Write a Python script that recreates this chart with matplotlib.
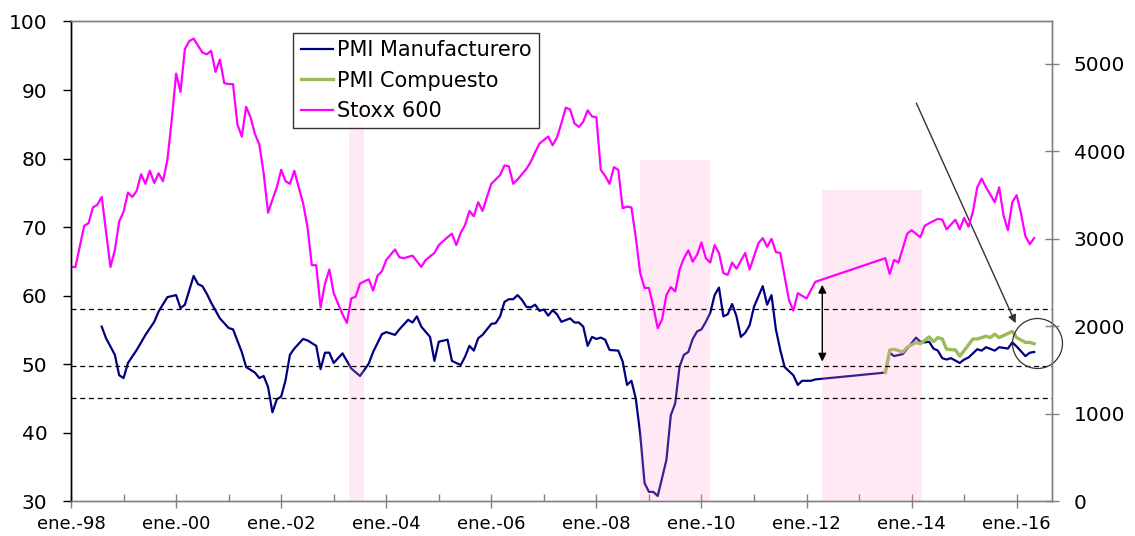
import numpy as np
import matplotlib
matplotlib.use("Agg")
import matplotlib.pyplot as plt
from matplotlib.ticker import FixedLocator

# months counted from Jan 1998
pmi_manuf_m = [7, 8, 10, 11, 12, 13, 15, 17, 19, 20, 22, 24, 25, 26, 28, 29, 30, 31, 32, 34,
               35, 36, 37, 39, 40, 42, 43, 44, 45, 46, 47, 48, 49, 50, 51, 53, 54, 56, 57, 58,
               59, 60, 62, 64, 66, 68, 69, 71, 72, 74, 75, 77, 78, 79, 80, 82, 83, 84, 86, 87,
               89, 90, 91, 92, 93, 94, 96, 97, 98, 99, 100, 101, 102, 103, 104, 105, 106, 107, 108, 109,
               110, 111, 112, 114, 115, 116, 117, 118, 119, 120, 121, 122, 123, 125, 126, 127, 128, 129, 130, 131,
               132, 133, 134, 135, 136, 137, 138, 139, 140, 141, 142, 143, 144, 145, 146, 147, 148, 149, 150, 151,
               152, 153, 154, 155, 156, 158, 159, 160, 161, 162, 163, 165, 166, 167, 169, 170, 186, 187, 188, 190,
               191, 193, 194, 195, 196, 197, 198, 199, 200, 201, 203, 204, 205, 207, 208, 209, 211, 212, 214, 215,
               216, 218, 219, 220]
pmi_manuf_v = [55.5, 53.8, 51.4, 48.4, 48.0, 50.2, 52.1, 54.3, 56.2, 57.7, 59.8, 60.1, 58.2, 58.7, 62.9, 61.7, 61.4, 60.3, 59.0, 56.7,
               56.0, 55.3, 55.1, 51.8, 49.6, 48.8, 48.0, 48.3, 46.7, 43.0, 44.9, 45.3, 47.7, 51.4, 52.3, 53.7, 53.5, 52.7, 49.3, 51.7,
               51.7, 50.2, 51.6, 49.4, 48.3, 50.1, 51.8, 54.4, 54.7, 54.3, 55.1, 56.5, 56.1, 57.0, 55.5, 54.0, 50.5, 53.3, 53.6, 50.5,
               49.9, 51.1, 52.7, 52.0, 53.8, 54.3, 55.9, 56.0, 57.0, 59.1, 59.5, 59.5, 60.1, 59.4, 58.4, 58.3, 58.7, 57.8, 58.0, 57.1,
               57.9, 57.3, 56.2, 56.7, 56.1, 56.1, 55.5, 52.7, 54.0, 53.7, 53.9, 53.6, 52.1, 52.0, 50.4, 47.0, 47.6, 45.0, 39.9, 32.7,
               31.4, 31.4, 30.8, 33.4, 36.1, 42.6, 44.3, 49.7, 51.4, 51.8, 53.7, 54.8, 55.1, 56.2, 57.5, 60.1, 61.2, 57.0, 57.3, 58.8,
               57.0, 54.0, 54.6, 55.7, 58.4, 61.4, 58.7, 60.1, 55.1, 52.1, 49.6, 48.4, 47.0, 47.6, 47.6, 47.8, 48.8, 51.7, 51.2, 51.5,
               52.3, 53.9, 53.3, 53.2, 53.3, 52.3, 52.0, 50.9, 50.7, 50.9, 50.2, 50.7, 51.0, 52.2, 52.0, 52.5, 52.0, 52.5, 52.3, 53.2,
               52.6, 51.2, 51.7, 51.8]

pmi_comp_m = [186, 187, 188, 190, 191, 193, 194, 196, 197, 198, 199, 200, 202, 203, 204, 206, 207, 209, 210, 211,
              212, 213, 215, 216, 218, 219, 220]
pmi_comp_v = [48.8, 52.1, 52.2, 51.8, 52.5, 53.2, 53.0, 54.0, 53.3, 53.9, 53.7, 52.2, 52.1, 51.2, 52.0, 53.7, 53.7, 54.1, 53.9, 54.4,
              53.9, 54.2, 54.8, 53.9, 53.2, 53.2, 53.0]

stoxx_m = [0, 1, 3, 4, 5, 6, 7, 9, 10, 11, 12, 13, 14, 15, 16, 17, 18, 19, 20, 21,
           22, 23, 24, 25, 26, 27, 28, 30, 31, 32, 33, 34, 35, 36, 37, 38, 39, 40, 41, 42,
           43, 44, 45, 46, 47, 48, 49, 50, 51, 52, 53, 54, 55, 56, 57, 58, 59, 60, 62, 63,
           64, 65, 66, 68, 69, 70, 71, 72, 74, 75, 76, 78, 80, 81, 83, 84, 86, 87, 88, 89,
           90, 91, 92, 93, 94, 95, 96, 98, 99, 100, 101, 102, 104, 105, 106, 107, 109, 110, 111, 112,
           113, 114, 115, 116, 117, 118, 119, 120, 121, 122, 123, 124, 125, 126, 127, 128, 129, 130, 131, 132,
           133, 134, 135, 136, 137, 138, 139, 140, 141, 142, 143, 144, 145, 146, 147, 148, 149, 150, 151, 152,
           154, 155, 157, 158, 159, 160, 161, 162, 164, 165, 166, 168, 170, 186, 187, 188, 189, 191, 192, 194,
           195, 196, 198, 199, 200, 202, 203, 204, 205, 206, 207, 208, 209, 211, 212, 213, 214, 215, 216, 217,
           218, 219, 220]
stoxx_v = [2680, 2680, 3150, 3180, 3360, 3390, 3480, 2680, 2870, 3200, 3310, 3530, 3480, 3550, 3740, 3630, 3780, 3640, 3750, 3660,
           3900, 4360, 4890, 4680, 5170, 5260, 5290, 5130, 5110, 5150, 4910, 5050, 4780, 4770, 4770, 4310, 4170, 4510, 4390, 4200,
           4080, 3750, 3300, 3450, 3590, 3790, 3660, 3630, 3780, 3590, 3410, 3140, 2700, 2700, 2220, 2490, 2650, 2380, 2140, 2040,
           2320, 2340, 2490, 2540, 2410, 2580, 2630, 2760, 2880, 2790, 2780, 2810, 2680, 2760, 2840, 2930, 3020, 3060, 2930, 3070,
           3160, 3320, 3260, 3420, 3320, 3480, 3630, 3730, 3840, 3830, 3630, 3680, 3800, 3880, 3990, 4090, 4170, 4070, 4160, 4320,
           4500, 4480, 4320, 4280, 4340, 4470, 4400, 4390, 3790, 3720, 3630, 3820, 3790, 3350, 3370, 3360, 3020, 2610, 2440, 2440,
           2230, 1980, 2080, 2360, 2450, 2400, 2650, 2780, 2870, 2740, 2820, 2960, 2780, 2730, 2930, 2840, 2610, 2590, 2730, 2660,
           2840, 2650, 2950, 3010, 2910, 3000, 2850, 2840, 2300, 2180, 2380, 2320, 2510, 2780, 2600, 2760, 2730, 3060, 3100, 3020,
           3150, 3180, 3230, 3220, 3110, 3220, 3110, 3240, 3140, 3310, 3590, 3690, 3590, 3420, 3590, 3270, 3100, 3420, 3500, 3290,
           3030, 2940, 3010]

# shaded periods (start month, end month, top on left axis)
shade_start = [63.6, 129.9, 171.6]
shade_end = [67.0, 145.9, 194.3]
shade_top = [89.1, 79.8, 75.4]

ref_levels = [58.1, 49.8, 45.1]

year_labels = ["ene.-%02d" % (y % 100) for y in range(1998, 2017, 2)]


def to_year(months):
    return 1998 + np.asarray(months, dtype=float) / 12.0


fig = plt.figure(figsize=(11.35, 5.36), dpi=100)
ax = fig.add_axes([0.0626, 0.0644, 0.864, 0.8955])
ax2 = ax.twinx()

grey = "#808080"

# PMI lines
l1, = ax.plot(to_year(pmi_manuf_m), pmi_manuf_v, color="#000080", lw=1.6, zorder=3,
              label="PMI Manufacturero")
l2, = ax.plot(to_year(pmi_comp_m), pmi_comp_v, color="#9BBB59", lw=2.4, zorder=4,
              label="PMI Compuesto")

# shading (drawn above PMI, translucent)
for s, e, t in zip(shade_start, shade_end, shade_top):
    ax.fill_between([to_year(s), to_year(e)], [30, 30], [t, t], color="#FF9FD5",
                    alpha=0.22, lw=0, zorder=5)

for lv in ref_levels:
    ax.axhline(lv, color="black", lw=0.9, ls=(0, (4, 3)), zorder=6)

# Stoxx on right axis
l3, = ax2.plot(to_year(stoxx_m), stoxx_v, color="#FF00FF", lw=1.6, label="Stoxx 600")

ax.set_xlim(1998, to_year(224))
ax.set_ylim(30, 100)
ax2.set_ylim(0, 5485)
ax.set_yticks(range(30, 101, 10))
ax2.set_yticks(range(0, 5001, 1000))

ax.xaxis.set_major_locator(FixedLocator(list(range(1998, 2017, 2))))
ax.xaxis.set_minor_locator(FixedLocator(list(range(1999, 2017, 2))))
ax.set_xticklabels(year_labels)

ax.tick_params(axis="y", direction="out", length=6, width=1, labelsize=14.5, pad=11, colors="black")
ax.tick_params(axis="x", which="major", direction="inout", length=10, width=1, color=grey,
               labelsize=13, pad=5, labelcolor="black")
ax.tick_params(axis="x", which="minor", direction="in", length=5, width=1, color=grey)
ax2.tick_params(axis="y", direction="inout", length=10, width=1, color=grey, labelsize=14.5, pad=11,
                labelcolor="black")

for a in (ax, ax2):
    for side in ("top", "right", "bottom"):
        a.spines[side].set_color(grey)
        a.spines[side].set_linewidth(1)
    a.spines["left"].set_color("black")
    a.spines["left"].set_linewidth(1)

# annotations
ax.annotate("", xy=(to_year(171.6), 61.6), xytext=(to_year(171.6), 50.4),
            arrowprops=dict(arrowstyle="<|-|>", color="black", lw=1, mutation_scale=12,
                            shrinkA=0, shrinkB=0), zorder=7)
ax.annotate("", xy=(2015.98, 56.0), xytext=(2014.09, 88.1),
            arrowprops=dict(arrowstyle="-|>", color="#333333", lw=1, mutation_scale=12,
                            shrinkA=0, shrinkB=0), zorder=7)
ax.plot([2016.39], [53.07], "o", ms=36, mfc="none", mec="#333333", mew=0.9, clip_on=False, zorder=7)

leg = ax2.legend(handles=[l1, l2, l3], loc="upper left", bbox_to_anchor=(0.2268, 0.976),
                 borderaxespad=0, fontsize=15, frameon=True, fancybox=False, edgecolor="black",
                 handlelength=1.55, handletextpad=0.2, borderpad=0.35, labelspacing=0.5)
leg.get_frame().set_linewidth(1)

fig.savefig("out.png", dpi=100)
